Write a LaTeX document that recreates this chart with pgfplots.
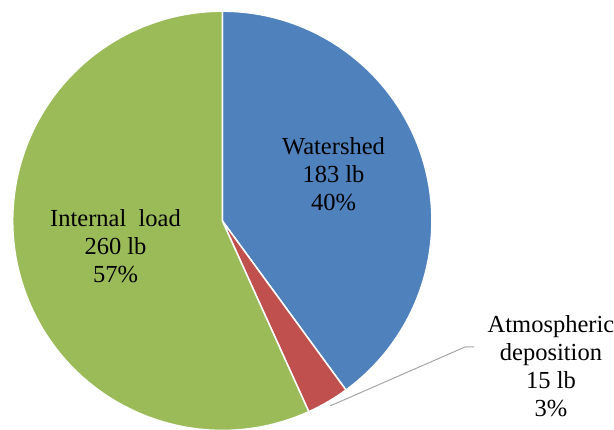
\documentclass[border=0pt]{standalone}
\usepackage{pgfplots}
\usepackage{pgfplotstable}
\pgfplotsset{compat=1.18}
\usepackage{fontspec}
\setmainfont{Liberation Serif}

\definecolor{wsblue}{HTML}{4F81BD}
\definecolor{atred}{HTML}{C0504D}
\definecolor{ingreen}{HTML}{9BBB59}
\definecolor{leader}{HTML}{A6A6A6}

% Phosphorus load by source (lb)
\pgfplotstableread{
source value
Watershed 183
Atmospheric 15
Internal 260
}\loaddata

\begin{document}
\begin{tikzpicture}
\pgfplotstablegetelem{0}{value}\of\loaddata \let\vWs\pgfplotsretval
\pgfplotstablegetelem{1}{value}\of\loaddata \let\vAt\pgfplotsretval
\pgfplotstablegetelem{2}{value}\of\loaddata \let\vIn\pgfplotsretval
\pgfmathsetmacro{\total}{\vWs+\vAt+\vIn}
% slices run clockwise from 12 o'clock
\pgfmathsetmacro{\aA}{90}
\pgfmathsetmacro{\aB}{\aA-\vWs/\total*360}
\pgfmathsetmacro{\aC}{\aB-\vAt/\total*360}
\pgfmathsetmacro{\aD}{\aC-\vIn/\total*360}
\begin{axis}[
  width=614pt, height=430pt, scale only axis,
  xmin=0, xmax=614, ymin=0, ymax=430,
  hide axis, clip=true,
]
\def\cx{222.3}\def\cy{209.2}\def\R{209.6pt}
\fill[wsblue, draw=white, line width=1.5pt] (axis cs:\cx,\cy) -- ++(\aA:\R)
  arc[start angle=\aA, end angle=\aB, radius=\R] -- cycle;
\fill[atred, draw=white, line width=1.5pt] (axis cs:\cx,\cy) -- ++(\aB:\R)
  arc[start angle=\aB, end angle=\aC, radius=\R] -- cycle;
\fill[ingreen, draw=white, line width=1.5pt] (axis cs:\cx,\cy) -- ++(\aC:\R)
  arc[start angle=\aC, end angle=\aD, radius=\R] -- cycle;

% leader line to the small slice
\addplot[leader, line width=1pt, no marks] coordinates {(330,24) (465,83) (474,83)};

\path (axis cs:0,0) rectangle (axis cs:614,430);

% labels: anchored at the baseline of their last line
\begin{scope}[every node/.style={align=center, inner sep=0pt, anchor=base,
    font=\fontsize{24.5}{28}\selectfont}]
\node at (axis cs:333.5,219) {Watershed\\183 lb\\40\%};
\node at (axis cs:115.5,147) {Internal\ \ load\\260 lb\\57\%};
\node at (axis cs:551,13) {Atmospheric\\deposition\\15 lb\\3\%};
\end{scope}
\end{axis}
\end{tikzpicture}
\end{document}
